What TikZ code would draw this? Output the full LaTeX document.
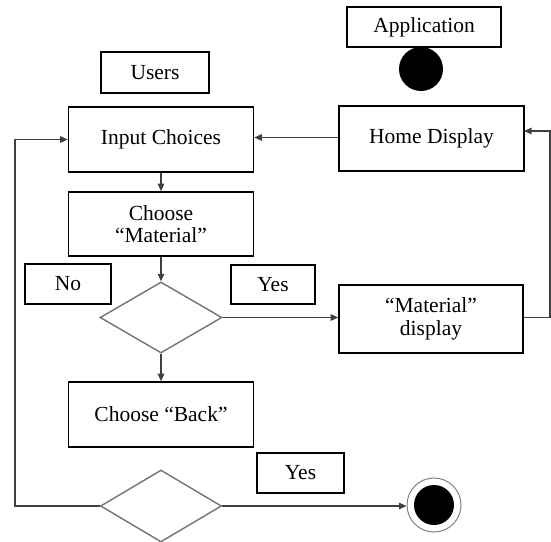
\documentclass[tikz,border=0pt]{standalone}
\usepackage{fontspec}
\setmainfont{Liberation Serif}
\usetikzlibrary{shapes.geometric,arrows.meta}

\begin{document}
\begin{tikzpicture}[x=1pt,y=-1pt,
  every node/.style={font=\fontsize{21.5}{22.5}\selectfont, align=center, inner sep=0pt},
  actbox/.style={draw=black, line width=1.6pt, fill=white, minimum width=#1},
  actbox/.default=185pt,
  decision/.style={diamond, draw=black!55, line width=1.4pt, minimum width=122pt, minimum height=71pt},
  conn/.style={draw=black!75, line width=1.2pt, -{Triangle[length=7.5pt,width=6.5pt]}},
]
\useasboundingbox (0,0) rectangle (551,541);
\fill[white] (0,0) rectangle (551,541);

% swimlane captions
\node[actbox=154pt, minimum height=40pt] (app) at (424,27) {Application};
\node[actbox=108pt, minimum height=41pt] (users) at (155,72.5) {Users};

% initial and final states
\node[circle, fill=black, minimum size=44pt] (start) at (421,69) {};
\node[circle, draw=black!50, line width=1pt, minimum size=54pt] (end) at (434,505) {};
\node[circle, fill=black, minimum size=40pt] (endcore) at (end.center) {};

% activities
\node[actbox, minimum height=65pt] (input) at (161,139.5) {Input Choices};
\node[actbox, minimum height=65pt] (home) at (431.5,138.5) {Home Display};
\node[actbox, minimum height=64pt] (choosemat) at (161,224) {Choose\\“Material”};
\node[actbox=184pt, minimum height=68pt] (matdisp) at (431,319) {“Material”\\display};
\node[actbox, minimum height=65pt] (back) at (161,414.5) {Choose “Back”};

% guard labels
\node[actbox=86pt, minimum height=40pt] (no) at (68,284) {No};
\node[actbox=84pt, minimum height=39pt] (yes1) at (273,284.5) {Yes};
\node[actbox=87pt, minimum height=40pt] (yes2) at (300.5,473) {Yes};

% decisions
\node[decision] (dia1) at (161,317.5) {};
\node[decision, minimum width=121pt, minimum height=72pt] (dia2) at (161,506) {};

% routing points for the two loops
\coordinate (loopR) at (550,0);
\coordinate (loopL) at (15,0);
\coordinate (homein) at (524,131);

% flow
\draw[conn] (home.west |- 0,137.5) -- (input.east |- 0,137.5);
\draw[conn] (input.south) -- (choosemat.north);
\draw[conn] (choosemat.south) -- (dia1.north);
\draw[conn] (dia1.east) -- (dia1.east -| matdisp.west);
\draw[conn] (dia1.south) -- (back.north);
\draw[conn] (dia1.east -| matdisp.east) -- (dia1.east -| loopR) -- (homein -| loopR) -- (homein);
\draw[conn] (dia2.west) -- (dia2.west -| loopL) -- (loopL |- input.west) -- (input.west);
\draw[conn] (dia2.east) -- (dia2.east -| end.west);
\end{tikzpicture}
\end{document}
